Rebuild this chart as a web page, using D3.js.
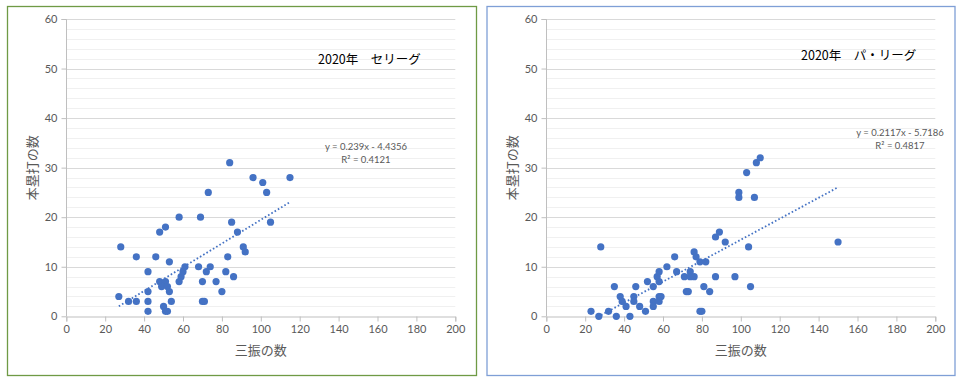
<!DOCTYPE html>
<html><head><meta charset="utf-8">
<script src="https://cdn.jsdelivr.net/npm/d3@7"></script>
<style>
body{margin:0;background:#fff;}
svg{display:block;}
</style></head>
<body>
<svg id="chart" width="960" height="380"></svg>
<script>
// ---- data ----
const xTicks = [0,20,40,60,80,100,120,140,160,180,200];
const yTicks = [0,10,20,30,40,50,60];
const xLabel = "三振の数";
const yLabel = "本塁打の数";

const centralTitle = "2020年　セリーグ";
const centralStrikeouts = [27,28,32,36,36,42,42,42,42,46,48,51,48,51,49,52,53,53,54,50,51,52,58,58,59,60,61,68,69,70,70,71,72,73,74,77,80,82,83,84,85,86,88,91,92,96,101,103,105,115];
const centralHomeRuns   = [4,14,3,3,12,9,5,3,1,12,17,18,7,7,6,6,5,11,3,2,1,1,20,7,8,9,10,10,20,7,3,3,9,25,10,7,5,9,12,31,19,8,17,14,13,28,27,25,19,28];
const centralEq = ["y = 0.239x - 4.4356", "R² = 0.4121"];
const centralFit = [0.239, -4.4356];

const pacificTitle = "2020年　パ・リーグ";
const pacificStrikeouts = [23,27,28,32,35,36,38,39,41,43,45,45,46,48,51,52,55,55,55,57,58,58,58,59,58,62,66,67,71,72,73,74,74,76,76,77,79,82,81,84,79,80,87,87,89,92,97,99,99,103,104,105,107,108,110,150];
const pacificHomeRuns   = [1,0,14,1,6,0,4,3,2,0,4,3,6,2,1,7,6,3,2,8,9,7,4,4,3,10,12,9,8,5,5,9,8,8,13,12,11,11,6,5,1,1,8,16,17,15,8,25,24,29,14,6,24,31,32,15];
const pacificEq = ["y = 0.2117x - 5.7186", "R² = 0.4817"];
const pacificFit = [0.2117, -5.7186];

// ---- drawing ----
const svg = d3.select("#chart");
const numFont = "Lato, 'Noto Sans', sans-serif";
const jpFont = "'Noto Sans CJK JP', sans-serif";

function panel(cfg){
  const g = svg.append("g");
  g.append("rect").attr("x",cfg.bx).attr("y",6.5).attr("width",cfg.bw).attr("height",369)
    .attr("fill","#fff").attr("stroke",cfg.border).attr("stroke-width",1.3);
  const x = d3.scaleLinear().domain([0,200]).range([cfg.x0, cfg.x0+389]);
  const y = d3.scaleLinear().domain([0,60]).range([316.3, 19]);
  const clipId = "clip"+Math.round(cfg.bx);
  g.append("clipPath").attr("id",clipId).append("rect")
    .attr("x",x(0)).attr("y",y(60)).attr("width",x(200)-x(0)).attr("height",y(0)-y(60));
  // minor grid
  const minor = d3.range(2,60,2).filter(v=>v%10!==0);
  g.selectAll(".mg").data(minor).join("line")
    .attr("x1",x(0)).attr("x2",x(200)).attr("y1",d=>Math.round(y(d))+0.5).attr("y2",d=>Math.round(y(d))+0.5)
    .attr("stroke","#f0f0f0").attr("stroke-width",1);
  // major grid
  g.selectAll(".Mg").data(yTicks.filter(v=>v>0)).join("line")
    .attr("x1",x(0)).attr("x2",x(200)).attr("y1",d=>Math.round(y(d))+0.5).attr("y2",d=>Math.round(y(d))+0.5)
    .attr("stroke","#d9d9d9").attr("stroke-width",1);
  // axes
  const xa = g.append("g").attr("transform",`translate(0,${Math.round(y(0))+0.5})`)
    .call(d3.axisBottom(x).tickValues(xTicks).tickSize(5).tickPadding(4));
  const ya = g.append("g").attr("transform",`translate(${Math.round(x(0))+0.5},0)`)
    .call(d3.axisLeft(y).tickValues(yTicks).tickSize(5).tickPadding(4));
  [xa,ya].forEach(a=>{
    a.select(".domain").attr("stroke","#bfbfbf");
    a.selectAll(".tick line").attr("stroke","#bfbfbf");
    a.selectAll("text").attr("fill","#595959").attr("font-family",numFont).attr("font-size",11);
  });
  ya.select(".domain").attr("d",`M-5,${Math.round(y(60))+0.5}H0V${Math.round(y(0))+0.5}`);
  // trendline
  const xs = cfg.xs, ys = cfg.ys;
  const xmin = d3.min(xs), xmax = d3.max(xs);
  g.append("line").attr("clip-path",`url(#${clipId})`)
    .attr("x1",x(xmin)).attr("y1",y(cfg.fit[0]*xmin+cfg.fit[1]))
    .attr("x2",x(xmax)).attr("y2",y(cfg.fit[0]*xmax+cfg.fit[1]))
    .attr("stroke","#4472C4").attr("stroke-width",1.8).attr("stroke-dasharray","1.6,2.2");
  // points
  g.selectAll(".pt").data(xs.map((v,i)=>[v,ys[i]])).join("circle")
    .attr("cx",d=>x(d[0])).attr("cy",d=>y(d[1])).attr("r",3.6)
    .attr("fill","#4472C4");
  // labels
  g.append("text").attr("x",cfg.tx).attr("y",cfg.ty).attr("font-family",jpFont)
    .attr("font-size",12.5).attr("fill","#000").text(cfg.title);
  g.append("text").attr("x",cfg.ex).attr("y",cfg.ey).attr("text-anchor","middle")
    .attr("font-family",numFont).attr("font-size",9.5).attr("fill","#595959").text(cfg.eq[0]);
  g.append("text").attr("x",cfg.ex).attr("y",cfg.ey+12.5).attr("text-anchor","middle")
    .attr("font-family",numFont).attr("font-size",9.5).attr("fill","#595959").text(cfg.eq[1]);
  g.append("text").attr("x",(x(0)+x(200))/2).attr("y",355).attr("text-anchor","middle")
    .attr("font-family",jpFont).attr("font-size",13).attr("fill","#595959").text(xLabel);
  g.append("text").attr("transform",`translate(${cfg.x0-29},${(y(0)+y(60))/2}) rotate(-90)`)
    .attr("text-anchor","middle").attr("font-family",jpFont).attr("font-size",13)
    .attr("fill","#595959").text(yLabel);
}

panel({bx:7.5,bw:469,border:"#6f9a45",x0:66.3,xs:centralStrikeouts,ys:centralHomeRuns,fit:centralFit,
  title:centralTitle,tx:318,ty:64,eq:centralEq,ex:366,ey:150});
panel({bx:487,bw:468,border:"#7f9fd6",x0:546.3,xs:pacificStrikeouts,ys:pacificHomeRuns,fit:pacificFit,
  title:pacificTitle,tx:801,ty:60,eq:pacificEq,ex:900,ey:136});
</script>
</body></html>
